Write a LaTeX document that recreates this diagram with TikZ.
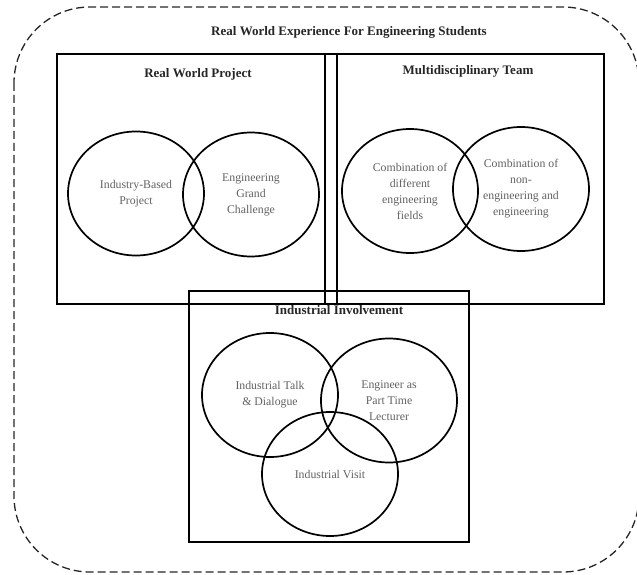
\documentclass[tikz,border=0pt]{standalone}
\usepackage{fontspec}
\setmainfont{Liberation Serif}
\usetikzlibrary{shapes.geometric}
\tikzset{
  frame/.style={draw=black, line width=1.5pt},
  outer/.style={draw=black!85, line width=1.3pt, dash pattern=on 8pt off 4pt, rounded corners=76pt},
  venn/.style={draw=black, line width=1.7pt, ellipse, minimum width=136pt, minimum height=124pt,
    inner sep=0pt, align=center, text=black!62, font=\fontsize{11.8}{16}\selectfont},
  heading/.style={inner sep=0pt, font=\fontsize{13}{15}\selectfont\bfseries, text=black!85}
}
\begin{document}
\begin{tikzpicture}[x=1pt,y=-1pt]
\useasboundingbox (0,0) rectangle (637,575);
% outer dashed frame
\draw[outer] (14,7) rectangle (639,572);
\node[heading] (title) at (349,32) {Real World Experience For Engineering Students};
% boxes
\draw[frame] (57,54) rectangle (337,304);
\draw[frame] (325,54) rectangle (604,304);
\draw[frame] (189,291) rectangle (469,542);
% headings
\node[heading] (rwp) at (198,74) {Real World Project};
\node[heading] (mdt) at (468,71) {Multidisciplinary Team};
\node[heading] (ii) at (339,310) {Industrial Involvement};
% circles
\node[venn] (c1) at (136,193.5) {Industry-Based\\Project};
\node[venn] (c2) at (251,194.5) {Engineering\\Grand\\Challenge};
\node[venn] (c3) at (410,191) {Combination of\\different\\engineering\\fields};
\node[venn] (c4) at (521,189) {Combination of\\non-\\engineering and\\engineering};
\node[venn] (c5) at (270,395) {Industrial Talk\\\& Dialogue};
\node[venn] (c6) at (389,400.5) {Engineer as\\Part Time\\Lecturer};
\node[venn] (c7) at (330,474) {Industrial Visit};
\end{tikzpicture}
\end{document}
